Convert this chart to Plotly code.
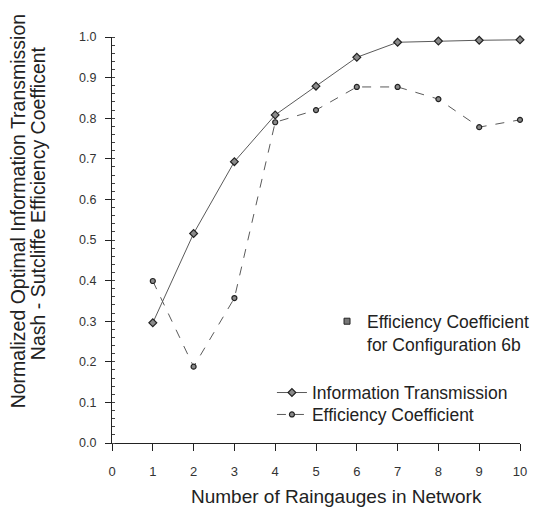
import plotly.graph_objects as go

raingauges = [1, 2, 3, 4, 5, 6, 7, 8, 9, 10]
info_transmission = [0.296, 0.516, 0.693, 0.808, 0.879, 0.950, 0.987, 0.990, 0.992, 0.993]
efficiency_coef = [0.399, 0.188, 0.357, 0.790, 0.820, 0.877, 0.877, 0.847, 0.778, 0.796]
x_ticks = list(range(0, 11))
y_ticks = [round(i * 0.1, 1) for i in range(11)]

FONT = "Liberation Sans, Arial, sans-serif"
LEG_FONT = dict(size=17.5, family=FONT, color="#222222")

fig = go.Figure()
fig.add_trace(go.Scatter(
    x=raingauges, y=info_transmission, mode="lines+markers",
    name="Information Transmission",
    line=dict(color="#5a5a5a", width=1),
    marker=dict(symbol="diamond", size=6, color="#8a8a8a", line=dict(color="#222222", width=1.2)),
    cliponaxis=False, legend="legend"))
fig.add_trace(go.Scatter(
    x=raingauges, y=efficiency_coef, mode="lines+markers",
    name="Efficiency Coefficient",
    line=dict(color="#5a5a5a", width=1, dash="dash"),
    marker=dict(symbol="circle", size=5, color="#8a8a8a", line=dict(color="#222222", width=1.2)),
    cliponaxis=False, legend="legend3"))
fig.add_trace(go.Scatter(
    x=[None], y=[None], mode="markers",
    name="Efficiency Coefficient<br>for Configuration 6b",
    marker=dict(symbol="square", size=6, color="#777777", line=dict(color="#222222", width=1)),
    legend="legend2"))

fig.update_layout(
    width=548, height=510,
    margin=dict(l=104, r=36, t=29, b=75),
    paper_bgcolor="white", plot_bgcolor="white",
    font=dict(family=FONT, color="#222222"),
    showlegend=True,
    legend=dict(x=0.392, y=0.124, xanchor="left", yanchor="middle",
                bgcolor="rgba(0,0,0,0)", font=LEG_FONT, itemwidth=30),
    legend3=dict(x=0.392, y=0.070, xanchor="left", yanchor="middle",
                 bgcolor="rgba(0,0,0,0)", font=LEG_FONT, itemwidth=30),
    legend2=dict(x=0.527, y=0.344, xanchor="left", yanchor="top",
                 bgcolor="rgba(0,0,0,0)", font=LEG_FONT, valign="top", itemwidth=30),
    xaxis=dict(range=[0, 10], tickvals=x_ticks, ticktext=[str(v) for v in x_ticks],
               showgrid=False, zeroline=False, showline=True, linecolor="#222222", linewidth=1,
               ticks="outside", ticklen=7, tickcolor="#222222", ticklabelstandoff=9,
               tickfont=dict(size=13, family=FONT, color="#333333")),
    yaxis=dict(range=[0, 1.0], tickvals=y_ticks, ticktext=[f"{v:.1f}" for v in y_ticks],
               showgrid=False, zeroline=False, showline=True, linecolor="#222222", linewidth=1,
               ticks="outside", ticklen=6, tickcolor="#222222", ticklabelstandoff=6,
               tickfont=dict(size=12.5, family=FONT, color="#333333"),
               minor=dict(ticks="inside", dtick=0.02, ticklen=3, tickcolor="#444444")),
    annotations=[
        dict(text="Normalized Optimal Information Transmission",
             xref="paper", yref="paper", x=-0.230, y=0.571, xanchor="center", yanchor="middle",
             textangle=-90, showarrow=False, font=dict(size=19.5, family=FONT, color="#222222")),
        dict(text="Nash - Sutcliffe Efficiency Coefficent",
             xref="paper", yref="paper", x=-0.181, y=0.591, xanchor="center", yanchor="middle",
             textangle=-90, showarrow=False, font=dict(size=19.5, family=FONT, color="#222222")),
        dict(text="Number of Raingauges in Network",
             xref="paper", yref="paper", x=0.551, y=-0.133, xanchor="center", yanchor="middle",
             showarrow=False, font=dict(size=19, family=FONT, color="#222222")),
    ],
)

fig.write_html("out.html")
